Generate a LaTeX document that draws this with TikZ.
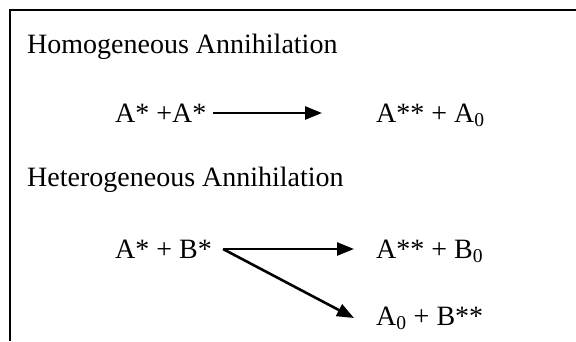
\documentclass[tikz,border=0pt]{standalone}
\usepackage{fontspec}
\setmainfont{Liberation Serif}
\usetikzlibrary{arrows.meta}
\tikzset{
  txt/.style={anchor=base west, inner sep=0pt, font=\fontsize{28}{32}\selectfont},
  rxn/.style={line width=2.6pt, -{Triangle[length=17pt,width=13pt]}},
  frame/.style={line width=2.8pt}
}
\begin{document}
\begin{tikzpicture}[x=1pt,y=-1pt]
\useasboundingbox (0,0) rectangle (576,341);
\draw[frame] (10,341) -- (10,10) -- (576,10);
\node[txt] (h1) at (27,53) {Homogeneous Annihilation};
\node[txt] (r1) at (115,122) {A* +A*};
\node[txt] (p1) at (376,122) {A** + A\textsubscript{0}};
\node[txt] (h2) at (27,186) {Heterogeneous Annihilation};
\node[txt] (r2) at (115,258) {A* + B*};
\node[txt] (p2) at (376,258) {A** + B\textsubscript{0}};
\node[txt] (p3) at (376,325) {A\textsubscript{0} + B**};
\coordinate (s1) at (213,113);
\coordinate (e1) at (322,113);
\coordinate (s2) at (223,249);
\coordinate (e2) at (354,249);
\coordinate (e3) at (354,318);
\draw[rxn] (s1) -- (e1);
\draw[rxn] (s2) -- (e2);
\draw[rxn] (s2) -- (e3);
\end{tikzpicture}
\end{document}
